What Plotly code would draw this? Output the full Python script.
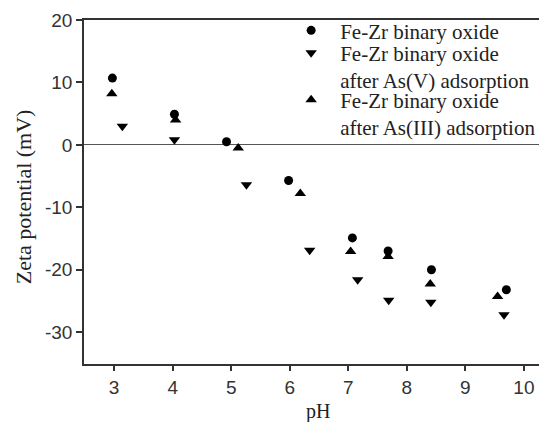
import plotly.graph_objects as go

# Data
ph_oxide = [2.97, 4.03, 4.92, 5.98, 7.07, 7.68, 8.42, 9.70]
zeta_oxide = [10.7, 4.9, 0.5, -5.7, -14.9, -17.0, -20.0, -23.2]

ph_as5 = [3.14, 4.03, 5.26, 6.34, 7.16, 7.69, 8.41, 9.66]
zeta_as5 = [3.0, 0.8, -6.4, -16.9, -21.6, -24.9, -25.2, -27.2]

ph_as3 = [2.96, 4.05, 5.12, 6.18, 7.04, 7.68, 8.40, 9.55]
zeta_as3 = [8.2, 4.0, -0.5, -7.8, -17.1, -17.9, -22.3, -24.3]

name_oxide = "Fe-Zr binary oxide"
name_as5 = "Fe-Zr binary oxide<br>after As(V) adsorption"
name_as3 = "Fe-Zr binary oxide<br>after As(III) adsorption"

x_ticks = [3, 4, 5, 6, 7, 8, 9, 10]
y_ticks = [20, 10, 0, -10, -20, -30]
y_ticktext = ["20", "10", "0", "-10", "-20", "-30"]

serif = "Liberation Serif, Times New Roman, serif"
sans = "Liberation Sans, Arial, sans-serif"
axis_col = "#333333"
text_col = "#222222"

# The page body has an 8px margin, so the figure is sized to fill the rest of the window.
W, H = 539, 414
ML, MT, MB, MR = 76, 12, 58, 0
PW, PH = W - ML - MR, H - MT - MB


def px_x(x):
    return (x - ML) / PW


def px_y(y):
    return (H - MB - y) / PH


fig = go.Figure()
fig.add_trace(go.Scatter(x=ph_oxide, y=zeta_oxide, mode="markers", name=name_oxide,
                         legend="legend",
                         marker=dict(symbol="circle", size=9, color="black")))
fig.add_trace(go.Scatter(x=ph_as5, y=zeta_as5, mode="markers", name=name_as5,
                         legend="legend2",
                         marker=dict(symbol="triangle-down", size=10, color="black")))
fig.add_trace(go.Scatter(x=ph_as3, y=zeta_as3, mode="markers", name=name_as3,
                         legend="legend3",
                         marker=dict(symbol="triangle-up", size=10, color="black")))


def leg(top_px):
    return dict(x=px_x(275), y=px_y(top_px), xanchor="left", yanchor="top",
                font=dict(family=serif, size=21, color=text_col),
                bgcolor="rgba(0,0,0,0)", itemwidth=48, valign="top")


fig.update_layout(
    width=W, height=H,
    margin=dict(l=ML, r=MR, t=MT, b=MB),
    paper_bgcolor="white", plot_bgcolor="white",
    showlegend=True,
    legend=leg(2.2),
    legend2=leg(24.5),
    legend3=leg(71.5),
    xaxis=dict(range=[2.485, 10.36], tickvals=x_ticks, ticks="outside", ticklen=5,
               tickwidth=1.5, tickcolor=axis_col, showline=True, linecolor=axis_col,
               linewidth=1.5, mirror=True, showgrid=False, zeroline=False,
               tickfont=dict(family=sans, size=19, color="#333333")),
    yaxis=dict(range=[-35.1, 20], tickvals=y_ticks, ticktext=y_ticktext, ticks="outside",
               ticklen=6, tickwidth=1.5, tickcolor=axis_col, showline=True,
               linecolor=axis_col, linewidth=1.5, mirror=True, showgrid=False,
               zeroline=True, zerolinecolor="#555555", zerolinewidth=1,
               tickfont=dict(family=sans, size=19, color="#333333")),
    annotations=[
        dict(text="pH", x=px_x(311), y=px_y(403), xref="paper", yref="paper",
             xanchor="center", yanchor="middle", showarrow=False,
             font=dict(family=serif, size=20, color=text_col)),
        dict(text="Zeta potential (mV)", textangle=-90, x=px_x(15), y=px_y(189),
             xref="paper", yref="paper", xanchor="center", yanchor="middle",
             showarrow=False, font=dict(family=serif, size=22, color=text_col)),
    ],
)

fig.write_html("out.html")
